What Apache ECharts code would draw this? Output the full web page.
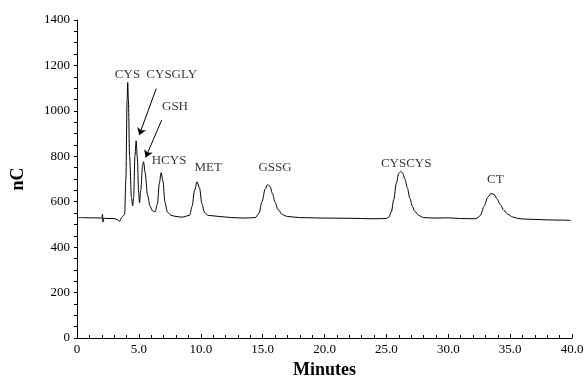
<!DOCTYPE html>
<html>
<head>
<meta charset="utf-8">
<script src="https://cdn.jsdelivr.net/npm/echarts@6/dist/echarts.min.js"></script>
<style>
  html, body { margin: 0; padding: 0; background: #fff; }
  #chart1 { width: 587px; height: 380px; }
</style>
</head>
<body>
<div id="chart1"></div>
<script>
// chromatogram trace (minutes, nC)
var minutes = [0, 0.5, 1.0, 1.5, 1.9, 2.0, 2.06, 2.1, 2.14, 2.2, 2.5, 3.0, 3.3, 3.45, 3.6, 3.75, 3.85,
  3.95, 4.05, 4.1, 4.15, 4.25, 4.4, 4.5, 4.58, 4.68, 4.78, 4.88, 4.98, 5.05, 5.15, 5.3, 5.38, 5.5,
  5.7, 5.9, 6.1, 6.3, 6.5, 6.65, 6.8, 6.95, 7.1, 7.3, 7.6, 8.0, 8.5, 9.1, 9.3, 9.5, 9.7, 9.9,
  10.1, 10.3, 10.6, 11.5, 12.5, 13.5, 14.4, 14.7, 14.95, 15.2, 15.4, 15.6, 15.8, 16.0, 16.25, 16.6, 17.0,
  18.0, 20.0, 22.0, 24.0, 25.0, 25.2, 25.4, 25.6, 25.8, 26.0, 26.15, 26.3, 26.5, 26.7, 26.9, 27.1, 27.3, 27.6, 28.0, 29.0,
  30.0, 31.0, 32.0, 32.3, 32.6, 32.9, 33.2, 33.45, 33.7, 33.95, 34.2, 34.5, 34.8, 35.2, 35.6,
  36.0, 37.0, 38.0, 39.0, 39.9];
var signal = [530, 530, 529, 529, 528, 527, 545, 510, 527, 527, 526, 526, 520, 514, 530, 540, 545,
  700, 1050, 1125, 1050, 800, 620, 582, 620, 800, 868, 790, 640, 596, 650, 760, 776, 730,
  630, 580, 560, 555, 590, 680, 728, 690, 600, 555, 540, 535, 532, 540, 580, 650, 688, 660,
  590, 552, 540, 535, 530, 528, 530, 548, 600, 655, 675, 668, 635, 598, 565, 543, 535,
  530, 528, 527, 525, 526, 532, 555, 610, 680, 725, 733, 728, 700, 660, 615, 580, 558, 540, 530, 528,
  529, 526, 525, 526, 540, 580, 620, 636, 632, 612, 588, 562, 545, 533, 527,
  524, 522, 520, 519, 518];

// peak annotations
var labelNames = ['CYS', 'CYSGLY', 'GSH', 'HCYS', 'MET', 'GSSG', 'CYSCYS', 'CT'];
var labelX = [4.08, 7.65, 7.92, 7.44, 10.6, 16.0, 26.6, 33.8];
var labelY = [1160, 1160, 1020, 780, 752, 752, 770, 697];

// arrows [fromX, fromY, toX, toY]
var arrows = [
  [6.4, 1098, 5.03, 893],
  [6.84, 959, 5.55, 795]
];

var xTicks = [0, 5, 10, 15, 20, 25, 30, 35, 40];
var yTicks = [0, 200, 400, 600, 800, 1000, 1200, 1400];

var font = 'Liberation Serif';

var traceData = minutes.map(function (m, i) { return [m, signal[i]]; });
var labelData = labelNames.map(function (n, i) { return { value: [labelX[i], labelY[i]], name: n }; });
var arrowData = arrows.map(function (a) {
  return [{ coord: [a[0], a[1]] }, { coord: [a[2], a[3]] }];
});

var chart = echarts.init(document.getElementById('chart1'));

chart.setOption({
  animation: false,
  backgroundColor: '#fff',
  grid: { left: 77, right: 15, top: 20, bottom: 42, outerBoundsMode: 'none' },
  xAxis: {
    type: 'value',
    min: xTicks[0],
    max: xTicks[xTicks.length - 1],
    interval: 5,
    name: 'Minutes',
    nameLocation: 'middle',
    nameGap: 23,
    nameTextStyle: { fontFamily: font, fontWeight: 'bold', fontSize: 18, color: '#000' },
    axisLine: { lineStyle: { color: '#000', width: 1 } },
    axisTick: { inside: true, length: 4, lineStyle: { color: '#000' } },
    minorTick: { show: true, splitNumber: 5, length: 3, lineStyle: { color: '#000' } },
    axisLabel: {
      fontFamily: font, fontSize: 13, color: '#000', margin: 5,
      formatter: function (v) { return v === 0 ? '0' : v.toFixed(1); }
    },
    splitLine: { show: false }
  },
  yAxis: {
    type: 'value',
    min: yTicks[0],
    max: yTicks[yTicks.length - 1],
    interval: 200,
    name: 'nC',
    nameLocation: 'middle',
    nameGap: 50,
    nameRotate: 90,
    nameTextStyle: { fontFamily: font, fontWeight: 'bold', fontSize: 18, color: '#000' },
    axisLine: { show: true, lineStyle: { color: '#000', width: 1 } },
    axisTick: { show: true, length: 3, lineStyle: { color: '#000' } },
    minorTick: { show: true, splitNumber: 4, length: 3, lineStyle: { color: '#000' } },
    axisLabel: {
      fontFamily: font, fontSize: 13, color: '#000', margin: 7,
      formatter: function (v) { return String(v); }
    },
    splitLine: { show: false }
  },
  series: [{
    type: 'line',
    data: traceData,
    showSymbol: false,
    smooth: 0.3,
    smoothMonotone: 'x',
    lineStyle: { color: '#000', width: 1 },
    markLine: {
      silent: true,
      symbol: ['none', 'arrow'],
      symbolSize: 7,
      lineStyle: { color: '#000', width: 1, type: 'solid' },
      label: { show: false },
      data: arrowData
    }
  }, {
    type: 'scatter',
    data: labelData,
    symbolSize: 0,
    silent: true,
    label: {
      show: true,
      position: 'inside',
      formatter: '{b}',
      fontFamily: font,
      fontSize: 13,
      color: '#000'
    }
  }]
});
</script>
</body>
</html>
